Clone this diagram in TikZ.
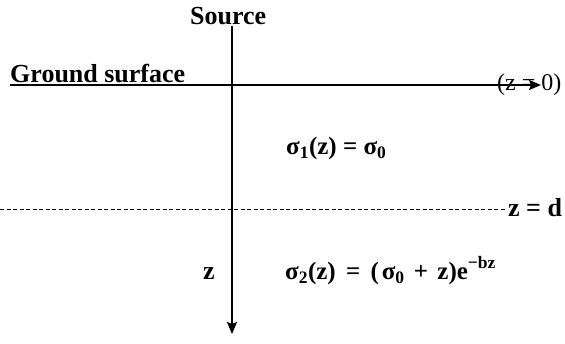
\documentclass[tikz,border=0pt]{standalone}
\usepackage{fontspec}
\setmainfont{Liberation Serif}
\usetikzlibrary{arrows.meta}
\tikzset{
  axis/.style={line width=2pt,-{Stealth[length=12pt,width=10pt,inset=2pt]}},
  dashline/.style={line width=0.8pt,dash pattern=on 4pt off 2.5pt},
  lbl/.style={inner sep=0pt,anchor=base west,font=\fontsize{26}{30}\selectfont\bfseries},
  eq/.style={inner sep=0pt,anchor=base west,font=\fontsize{25}{30}\selectfont\bfseries},
}
\begin{document}
\begin{tikzpicture}[x=1pt,y=-1pt]
\useasboundingbox (0,0) rectangle (565,344);
% axes
\coordinate (vtop) at (232,26);
\coordinate (vbot) at (232,334);
\coordinate (hl) at (10,85);
\coordinate (hr) at (541,85);
\coordinate (dl) at (0,209);
\coordinate (dr) at (506,209);
\draw[dashline] (dl) -- (dr);
\draw[axis] (hl) -- (hr);
\draw[axis] (vtop) -- (vbot);
% labels
\node[lbl] (src) at (190,25) {Source};
\node[lbl] (gs) at (10,83) {Ground surface};
\node[eq,font=\fontsize{24}{28}\selectfont] (z0) at (497,91) {(z = 0)};
\node[eq] (s1) at (286,155) {σ\textsubscript{1}(z) = σ\textsubscript{0}};
\node[lbl] (zl) at (203,280) {z};
\node[lbl] (zd) at (508,217) {z = d};
\node[eq] (s2) at (285,280) {σ\textsubscript{2}(z)\hspace{4pt} = \hspace{4pt}(\hspace{3pt}σ\textsubscript{0}\hspace{3pt} + \hspace{3pt}z)e\textsuperscript{\raisebox{2pt}{−bz}}};
\end{tikzpicture}
\end{document}
